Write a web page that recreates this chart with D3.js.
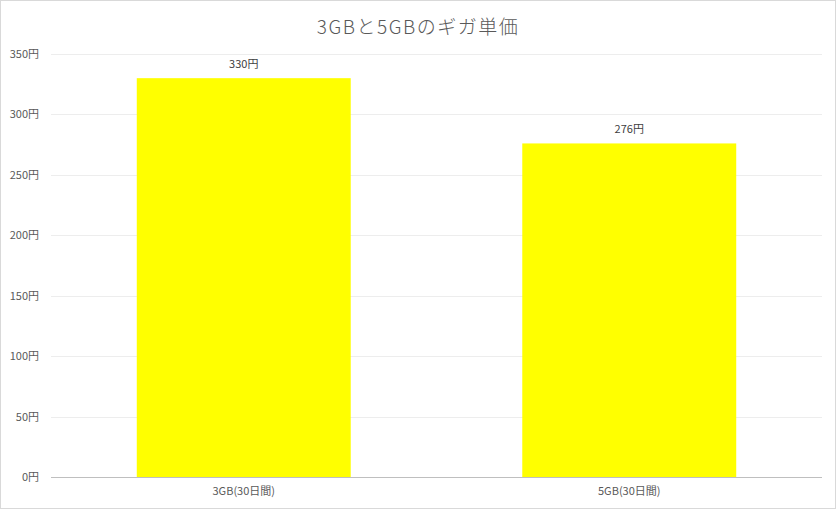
<!DOCTYPE html>
<html>
<head>
<meta charset="utf-8">
<script src="https://cdn.jsdelivr.net/npm/d3@7"></script>
<style>
  body { margin: 0; background: #fff; }
  text { font-family: "Noto Sans CJK JP", "Noto Sans", sans-serif; }
</style>
</head>
<body>
<div id="canvas"></div>
<script>
// data
const categories = ['3GB(30日間)', '5GB(30日間)'];
const prices = [330, 276];
const yTicks = [0, 50, 100, 150, 200, 250, 300, 350];
const title = '3GBと5GBのギガ単価';

// constants
const width = 836;
const height = 509;
const plotLeft = 51;
const plotRight = 822;
const plotTop = 54;
const plotBottom = 477;
const barRatio = 0.555;

const svg = d3.select('#canvas')
    .append('svg').attr('width', width).attr('height', height);

// chart border
svg.append('rect')
    .attr('x', 0.5).attr('y', 0.5)
    .attr('width', width - 1).attr('height', height - 1)
    .attr('fill', '#fff').attr('stroke', '#d9d9d9');

// scales
const x = d3.scaleBand()
    .domain(categories)
    .range([plotLeft, plotRight])
    .padding(0);
const y = d3.scaleLinear()
    .domain([0, 350])
    .range([plotBottom, plotTop]);

// gridlines
svg.append('g')
    .selectAll('line')
    .data(yTicks.filter(d => d > 0))
    .join('line')
    .attr('x1', plotLeft).attr('x2', plotRight)
    .attr('y1', d => Math.round(y(d)) + 0.5).attr('y2', d => Math.round(y(d)) + 0.5)
    .attr('stroke', '#ededed');

// y axis labels
const yAxis = d3.axisLeft(y)
    .tickValues(yTicks)
    .tickFormat(d => d + '円')
    .tickSize(0)
    .tickPadding(12);
const yg = svg.append('g')
    .attr('transform', `translate(${plotLeft},0)`)
    .call(yAxis);
yg.select('.domain').remove();
yg.selectAll('text')
    .attr('fill', '#595959')
    .style('font-size', '11px');

// bars
const bw = x.bandwidth() * barRatio;
svg.append('g')
    .selectAll('rect')
    .data(prices)
    .join('rect')
    .attr('x', (d, i) => x(categories[i]) + (x.bandwidth() - bw) / 2)
    .attr('y', d => y(d))
    .attr('width', bw)
    .attr('height', d => y(0) - y(d))
    .attr('fill', '#ffff00');

// data labels
svg.append('g')
    .selectAll('text')
    .data(prices)
    .join('text')
    .attr('x', (d, i) => x(categories[i]) + x.bandwidth() / 2)
    .attr('y', d => y(d) - 10)
    .attr('text-anchor', 'middle')
    .attr('fill', '#404040')
    .style('font-size', '11px')
    .text(d => d + '円');

// x axis
const xAxis = d3.axisBottom(x)
    .tickSize(0)
    .tickPadding(10);
const xg = svg.append('g')
    .attr('transform', `translate(0,${plotBottom})`)
    .call(xAxis);
xg.select('.domain')
    .attr('stroke', '#bfbfbf')
    .attr('d', `M${plotLeft},0.5H${plotRight}`);
xg.selectAll('text')
    .attr('fill', '#595959')
    .style('font-size', '11px');

// title
svg.append('text')
    .attr('x', width / 2)
    .attr('y', 34)
    .attr('text-anchor', 'middle')
    .attr('fill', '#595959')
    .style('font-size', '19px')
    .style('font-weight', '300')
    .style('letter-spacing', '1.5px')
    .text(title);
</script>
</body>
</html>
